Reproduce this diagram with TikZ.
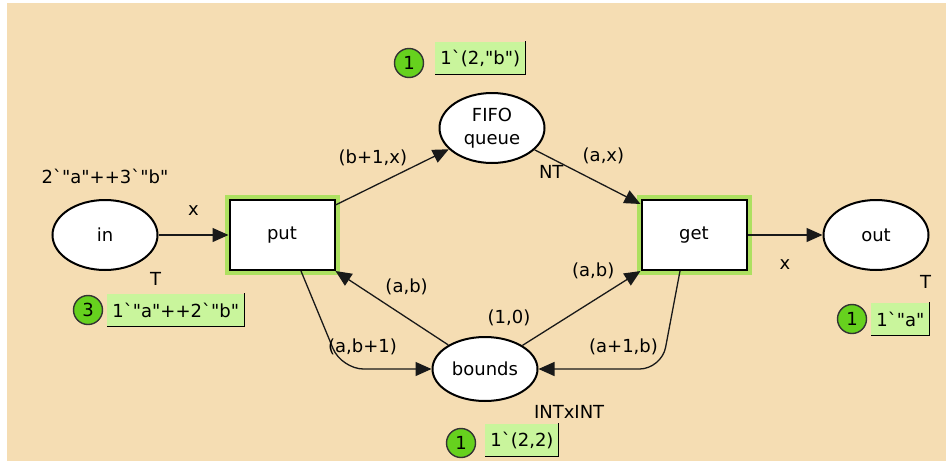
\documentclass[tikz,border=0pt]{standalone}
\usepackage{fontspec}
\setmainfont{DejaVu Sans}[Ligatures=TeXOff]
\usepackage{xcolor}
\usepackage{tikz}
\usetikzlibrary{positioning,shapes.geometric,arrows.meta}

\definecolor{cpnbg}{HTML}{F5DDB3}
\definecolor{cpnglow}{HTML}{ADE060}
\definecolor{tokfill}{HTML}{66D11E}
\definecolor{markfill}{HTML}{C9F59C}

\newcommand{\bq}{\textasciigrave}

\tikzset{
  place/.style={ellipse, draw, line width=2pt, fill=white,
    minimum width=105pt, minimum height=70pt, inner sep=0pt},
  trans/.style={rectangle, draw, line width=2pt, fill=white,
    minimum width=105pt, minimum height=70pt,
    preaction={draw=cpnglow, line width=10pt}},
  arc/.style={-{Triangle[length=16pt,width=14pt]}, line width=1.3pt, draw=black!90},
  lbl/.style={inner sep=1pt},
  tok/.style={circle, draw=black!80, line width=1.4pt, fill=tokfill,
    minimum size=29pt, inner sep=0pt},
  tokval/.style={fill=markfill, inner xsep=5pt, inner ysep=3pt, minimum height=33pt,
    append after command={
      (\tikzlastnode.north east) edge[line width=1.2pt] (\tikzlastnode.south east)
      (\tikzlastnode.south east) edge[line width=1.2pt] (\tikzlastnode.south west)}}
}

\begin{document}
\begin{tikzpicture}[x=1pt, y=-1pt, font=\fontsize{18}{23}\selectfont]
    \useasboundingbox (0,0) rectangle (946,461);
    \fill[white] (0,0) rectangle (946,461);
    \fill[cpnbg] (7,3) rectangle (946,461);

    \node[place] (in) at (105,235) {in};
    \node[trans, right=70pt of in] (put) {put};
    \node[place, align=center] (fifo) at (492,128) {FIFO\\queue};
    \node[trans] (get) at (694,235) {get};
    \node[place, right=75pt of get] (out) {out};
    \node[place, minimum height=64pt] (bnd) at (485,369) {bounds};

    \node[lbl, above=14pt of in] (ini) {2\bq"a"++3\bq"b"};
    \node[lbl, above=9pt of bnd, xshift=24pt] (inb) {(1,0)};
    \node[lbl, below right=11pt and 6pt of in] (tyi) {T};
    \node[lbl, below right=11pt and 8pt of fifo] (tyf) {NT};
    \node[lbl, below right=14pt and 5pt of out] (tyo) {T};
    \node[lbl, below right=12pt and 10pt of bnd] (tyb) {INTxINT};

    \node[tok] (ni) at ([shift={(-17,75)}]in) {3};
    \node[tokval, right=4pt of ni] (vi) {1\bq"a"++2\bq"b"};
    \node[tok] (nf) at ([shift={(-83,-65)}]fifo) {1};
    \node[tokval, right=11pt of nf, yshift=5pt] (vf) {1\bq(2,"b")};
    \node[tok] (nb) at ([shift={(-24,74)}]bnd) {1};
    \node[tokval, right=9pt of nb, yshift=3pt] (vb) {1\bq(2,2)};
    \node[tok] (no) at ([shift={(-24,84)}]out) {1};
    \node[tokval, right=4pt of no] (vo) {1\bq"a"};

    \draw[arc] (in) -- node[lbl, above=18pt] {x} (put);
    \draw[arc] ([yshift=-6pt]put.north east) -- node[lbl, pos=0.33, above=19pt] {(b+1,x)} (fifo);
    \draw[arc] (fifo) -- node[lbl, pos=0.65, above=20pt] {(a,x)} ([yshift=-5pt]get.north west);
    \draw[arc] (bnd) -- node[lbl, pos=0.37, above=21pt] {(a,b)} (put.south east);
    \draw[arc] (bnd) -- node[lbl, pos=0.6, above=20pt] {(a,b)} (get.south west);
    \draw[arc, rounded corners=22pt] ([xshift=19pt]put.south) -- ([xshift=-90pt]bnd.west)
      node[lbl, xshift=21pt, yshift=22pt] {(a,b+1)} -- (bnd.west);
    \draw[arc, rounded corners=22pt] ([xshift=-14pt]get.south) -- ([xshift=123pt]bnd.east)
      node[lbl, xshift=-38pt, yshift=22pt] {(a+1,b)} -- (bnd.east);
    \draw[arc] (get) -- node[lbl, below=23pt] {x} (out);
\end{tikzpicture}
\end{document}
